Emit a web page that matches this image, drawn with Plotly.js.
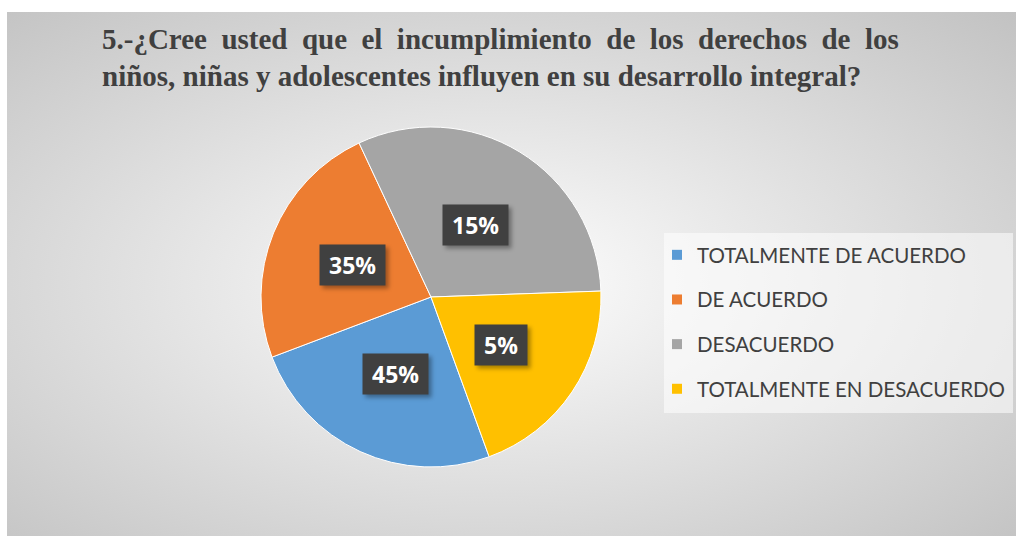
<!DOCTYPE html>
<html><head><meta charset="utf-8">
<script src="https://cdn.plot.ly/plotly-3.0.1.min.js"></script>
<style>
html,body{margin:0;padding:0;background:#fff;}
#bg{position:absolute;left:7px;top:12px;width:1009px;height:524px;background:radial-gradient(ellipse farthest-corner at 48% 52%, #ffffff 0%, #f3f3f3 18%, #c2c2c2 100%);}
#chart{position:absolute;left:0;top:0;width:1016px;height:536px;}
#chart .gtitle tspan.line:first-child{word-spacing:7.2px;}
#chart .annotation rect.bg{filter:drop-shadow(3px 3px 2px rgba(0,0,0,0.35));}
</style></head><body>
<div id="bg"></div><div id="chart"></div>
<script>
const categories = ['TOTALMENTE DE ACUERDO', 'DE ACUERDO', 'DESACUERDO', 'TOTALMENTE EN DESACUERDO'];
const sliceValues = [24.8, 23.8, 31.4, 20.0];
const labelTexts = ['45%', '35%', '15%', '5%'];
const colors = ['#5b9bd5', '#ed7d31', '#a5a5a5', '#ffc000'];
const titleText = '5.-¿Cree usted que el incumplimiento de los derechos de los<br>niños, niñas y adolescentes influyen en su desarrollo integral?';

const W = 1016, H = 536;
const CX = 431, CY = 297, R = 170, START = 160;

const domX = [(CX - R) / W, (CX + R) / W];
const domY = [1 - (CY + R) / H, 1 - (CY - R) / H];

const pie = {
  type: 'pie', values: sliceValues, labels: categories, sort: false,
  direction: 'clockwise', rotation: START,
  marker: {colors: colors, line: {color: '#ffffff', width: 1}},
  textinfo: 'none', hoverinfo: 'label+percent', showlegend: false,
  domain: {x: domX, y: domY}
};

const legendTraces = categories.map((c, i) => ({
  type: 'scatter', mode: 'markers', x: [null], y: [null], name: c,
  legendgroup: 'g' + i, marker: {symbol: 'square', size: 10, color: colors[i]},
  hoverinfo: 'skip', showlegend: true
}));

const total = sliceValues.reduce((a, b) => a + b, 0);
let cum = 0;
const annotations = sliceValues.map((v, i) => {
  const mid = (START + (cum + v / 2) / total * 360) * Math.PI / 180;
  cum += v;
  const px = CX + 0.5 * R * Math.sin(mid);
  const py = CY - 0.5 * R * Math.cos(mid);
  return {
    xref: 'paper', yref: 'paper', x: px / W, y: 1 - py / H, showarrow: false,
    text: labelTexts[i], font: {family: 'Open Sans', size: 23, color: '#ffffff', weight: 'bold'},
    bgcolor: '#404040', borderpad: 9, height: 22, xanchor: 'center', yanchor: 'middle'
  };
});

const layout = {
  width: W, height: H,
  margin: {l: 0, r: 0, t: 0, b: 0},
  paper_bgcolor: 'rgba(0,0,0,0)', plot_bgcolor: 'rgba(0,0,0,0)',
  title: {text: titleText, x: 102 / W, xanchor: 'left', y: 1 - 48.5 / H, yanchor: 'top', yref: 'container',
    font: {family: 'Liberation Serif', size: 29, color: '#404040', weight: 'bold'}},
  xaxis: {visible: false}, yaxis: {visible: false},
  showlegend: true,
  legend: {x: 657 / W, xanchor: 'left', y: 1 - 235 / H, yanchor: 'top', traceorder: 'grouped',
    tracegroupgap: 15, bgcolor: 'rgba(0,0,0,0)',
    font: {family: 'Lato', size: 20.5, color: '#404040'}},
  shapes: [{type: 'rect', xref: 'paper', yref: 'paper', x0: 664 / W, x1: 1013 / W, y0: 1 - 413 / H, y1: 1 - 233 / H,
    fillcolor: 'rgba(255,255,255,0.55)', line: {width: 0}, layer: 'below'}],
  annotations: annotations
};

Plotly.newPlot('chart', [pie].concat(legendTraces), layout, {displayModeBar: false, staticPlot: true});
</script></body></html>
